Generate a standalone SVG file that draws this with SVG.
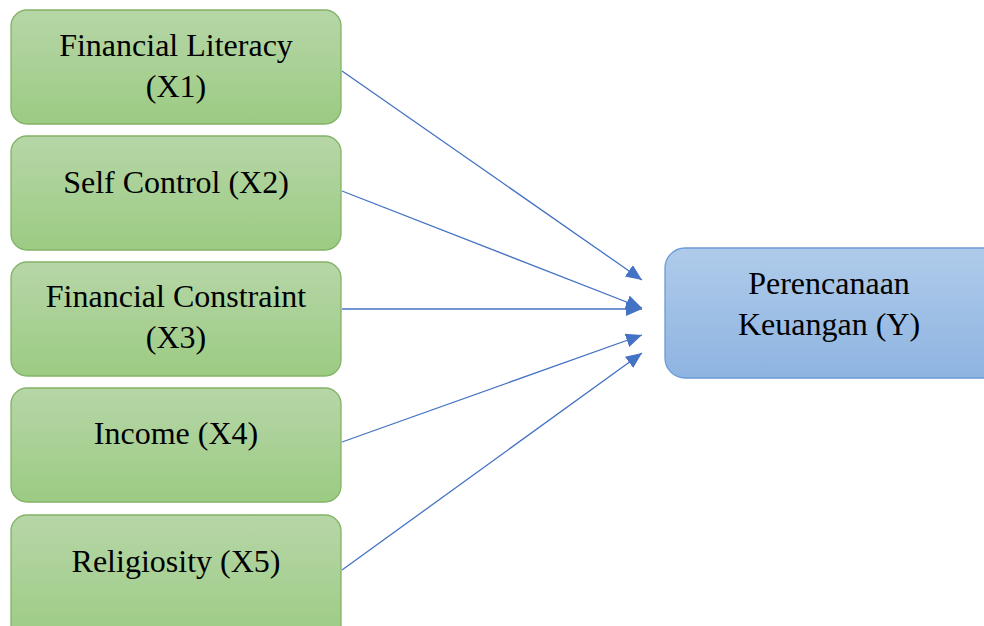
<svg xmlns="http://www.w3.org/2000/svg" width="984" height="626" viewBox="0 0 984 626">
<style>
.g{fill:url(#gg);stroke:#82b366;stroke-width:1.3}
.b{fill:url(#bg);stroke:#6a9bd8;stroke-width:1.3}
text{font-family:"Liberation Serif","Times New Roman",serif;font-size:32px;fill:#000;text-anchor:middle}
.c line{stroke:#4472c4;stroke-width:1.3;marker-end:url(#ah)}
</style>
<defs>
<linearGradient id="gg" x1="0" y1="0" x2="0" y2="1"><stop offset="0" stop-color="#b6d6a7"/><stop offset="1" stop-color="#9ccb83"/></linearGradient>
<linearGradient id="bg" x1="0" y1="0" x2="0" y2="1"><stop offset="0" stop-color="#afcbea"/><stop offset="1" stop-color="#8eb4e1"/></linearGradient>
<marker id="ah" markerWidth="17" markerHeight="15" refX="16" refY="7" orient="auto" markerUnits="userSpaceOnUse"><path d="M0,0 L16,7 L0,14 Z" fill="#4472c4"/></marker>
</defs>
<rect width="984" height="626" fill="#fff"/>
<g id="x1"><rect class="g" x="11" y="10" width="330" height="114" rx="16"/><text x="176" y="56">Financial Literacy</text><text x="176" y="97">(X1)</text></g>
<g id="x2"><rect class="g" x="11" y="136" width="330" height="114" rx="16"/><text x="176" y="193">Self Control (X2)</text></g>
<g id="x3"><rect class="g" x="11" y="262" width="330" height="114" rx="16"/><text x="176" y="307">Financial Constraint</text><text x="176" y="348">(X3)</text></g>
<g id="x4"><rect class="g" x="11" y="388" width="330" height="114" rx="16"/><text x="176" y="444">Income (X4)</text></g>
<g id="x5"><rect class="g" x="11" y="515" width="330" height="130" rx="16"/><text x="176" y="572">Religiosity (X5)</text></g>
<g id="y"><rect class="b" x="665" y="248" width="340" height="130" rx="20"/><text x="829" y="294">Perencanaan</text><text x="829" y="335">Keuangan (Y)</text></g>
<g class="c" id="connectors">
<line x1="342" y1="71" x2="642" y2="280"/>
<line x1="342" y1="191" x2="642" y2="308"/>
<line x1="342" y1="309" x2="642" y2="309"/>
<line x1="342" y1="442" x2="642" y2="335"/>
<line x1="342" y1="570" x2="642" y2="353"/>
</g>
</svg>
